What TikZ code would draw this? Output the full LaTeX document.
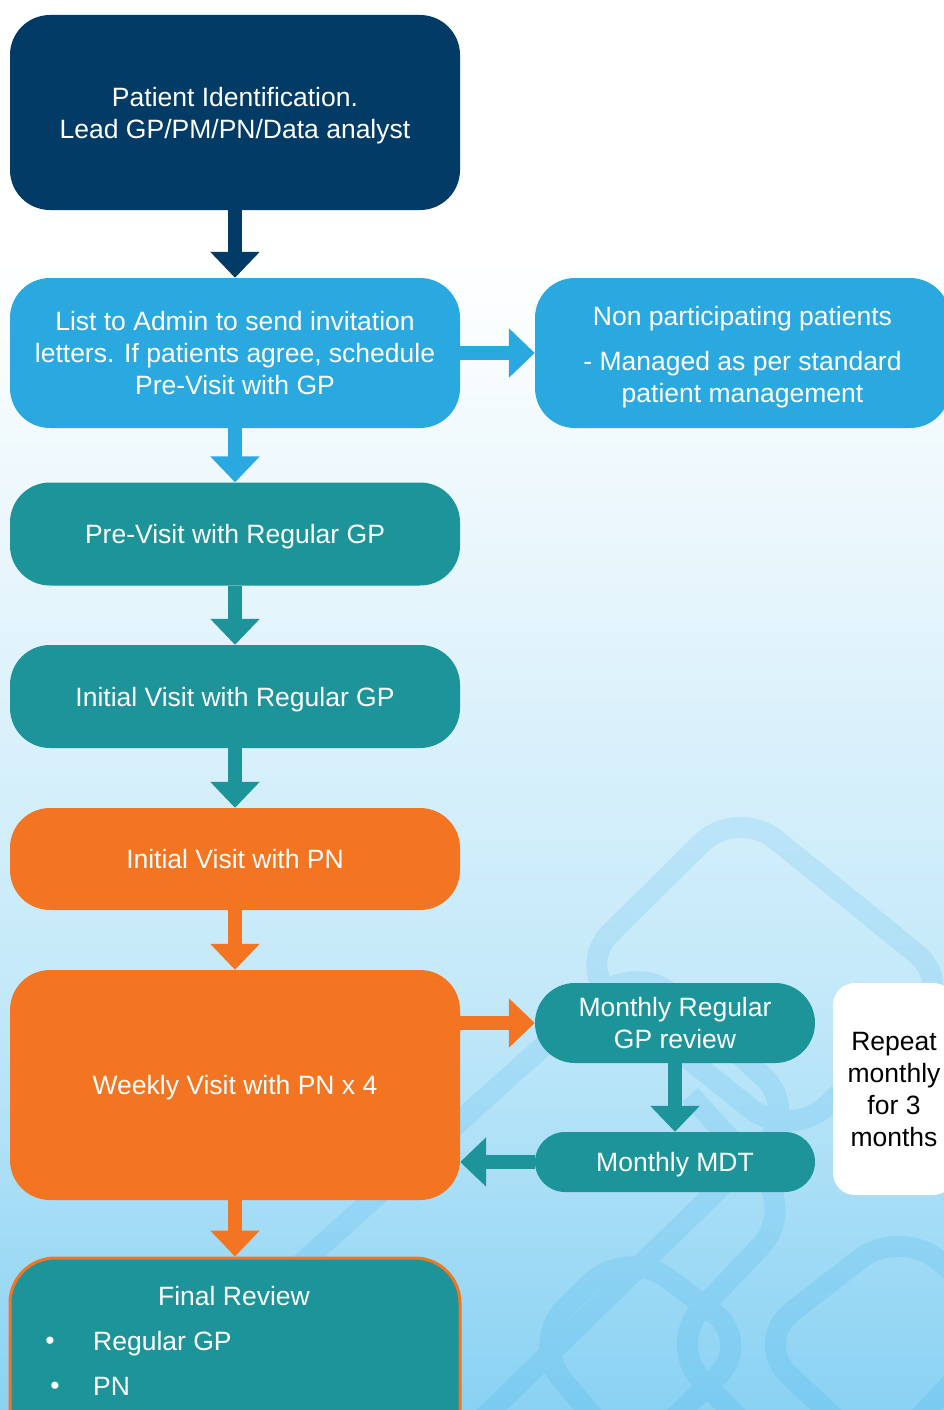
\documentclass[tikz,border=0pt]{standalone}
\usepackage{fontspec}
\setmainfont{Liberation Sans}
\usetikzlibrary{arrows.meta}
\definecolor{navy}{RGB}{2,59,102}
\definecolor{sky}{RGB}{41,169,224}
\definecolor{teal}{RGB}{28,148,153}
\definecolor{orng}{RGB}{243,117,33}
\definecolor{bgA}{RGB}{138,210,243}
\definecolor{bgB}{RGB}{196,233,249}
\definecolor{bgC}{RGB}{232,246,252}
\definecolor{decocol}{RGB}{0,150,230}
\pgfdeclareverticalshading{bgshade}{100bp}{color(0bp)=(bgA); color(25bp)=(bgA); color(40bp)=(bgB); color(55bp)=(bgC); color(66bp)=(white); color(100bp)=(white)}
\newcommand\boxfont{\fontsize{26.5}{32}\selectfont}
\newcommand\TT{\rule{0pt}{25pt}}
\newcommand\BB{\rule[-5.6pt]{0pt}{0pt}}
\begin{document}
\begin{tikzpicture}[x=1pt,y=-1pt,
  box/.style={rectangle, rounded corners=40pt, text=white, align=center, font=\boxfont, inner sep=0pt},
  deco/.style={draw=decocol, line width=21pt, rounded corners=50pt},
  arr/.style={line width=14pt, -{Triangle[length=26pt,width=48pt]}}]
\useasboundingbox (0,0) rectangle (944,1410);
\begin{scope}
\clip (0,0) rectangle (944,1410);
\fill[shading=bgshade] (0,0) rectangle (944,1410);
% decorative outlines
\begin{scope}[transparency group, opacity=0.11]
\draw[deco] (737,808) -- (955,985) -- (790,1140) -- (575,968) -- cycle;
\draw[deco] (637,962) -- (800,1110) -- (440,1460) -- (255,1305) -- cycle;
\draw[deco] (627,1248) -- (753,1342) -- (630,1460) -- (530,1342) -- cycle;
\draw[deco] (900,1228) -- (1010,1320) -- (880,1460) -- (753,1342) -- cycle;
\draw[deco] (690,1095) -- (795,1210) -- (667,1345) -- (760,1440);
\end{scope}
% boxes
\node[box, fill=navy, minimum width=450pt, minimum height=195pt] (b1) at (235,112.5)
  {\TT Patient Identification.\\Lead GP/PM/PN/Data analyst\BB};
\node[box, fill=sky, minimum width=450pt, minimum height=150pt] (b2) at (235,353)
  {\TT List to Admin to send invitation\\letters. If patients agree, schedule\\Pre-Visit with GP\BB};
\node[box, fill=sky, minimum width=415pt, minimum height=150pt] (b3) at (742.5,353)
  {\rule{0pt}{27pt}Non participating patients\\[13pt]- Managed as per standard\\patient management\BB};
\node[box, fill=teal, minimum width=450pt, minimum height=103pt] (b4) at (235,534)
  {\TT Pre-Visit with Regular GP\BB};
\node[box, fill=teal, minimum width=450pt, minimum height=103pt] (b5) at (235,696.5)
  {\TT Initial Visit with Regular GP\BB};
\node[box, fill=orng, minimum width=450pt, minimum height=102pt] (b6) at (235,859)
  {\TT Initial Visit with PN\BB};
\node[box, fill=orng, minimum width=450pt, minimum height=230pt] (b7) at (235,1085)
  {\TT Weekly Visit with PN x 4\BB};
\node[box, fill=teal, minimum width=280pt, minimum height=80pt] (b8) at (675,1023)
  {\TT Monthly Regular\\GP review\BB};
\node[box, fill=teal, rounded corners=30pt, minimum width=280pt, minimum height=60pt] (b9) at (675,1162)
  {\TT Monthly MDT\BB};
\node[box, fill=white, text=black, rounded corners=22pt, minimum width=122pt, minimum height=212pt] (b10) at (894,1089)
  {\TT Repeat\\monthly\\for 3\\months\BB};
\node[box, fill=teal, draw=orng, line width=3pt, rounded corners=45pt, minimum width=450pt, minimum height=200pt] (b11) at (235,1358) {};
\node[text=white, font=\boxfont, inner sep=0pt] (fr) at (234,1296) {\TT Final Review\BB};
\node[text=white, font=\boxfont, inner sep=0pt] (fb1) at (50,1343) {•};
\node[text=white, font=\boxfont, inner sep=0pt, anchor=west] (fr1) at (93,1341) {\TT Regular GP\BB};
\node[text=white, font=\boxfont, inner sep=0pt] (fb2) at (55,1388) {•};
\node[text=white, font=\boxfont, inner sep=0pt, anchor=west] (fr2) at (93,1386) {\TT PN\BB};
% arrows
\draw[arr, navy] (b1.south) -- (b2.north);
\draw[arr, sky] (b2.east) -- (b3.west);
\draw[arr, sky] (b2.south) -- (b4.north);
\draw[arr, teal] (b4.south) -- (b5.north);
\draw[arr, teal] (b5.south) -- (b6.north);
\draw[arr, orng] (b6.south) -- (b7.north);
\draw[arr, orng] (b8.west -| b7.east) -- (b8.west);
\draw[arr, teal] (b8.south) -- (b9.north);
\draw[arr, teal] (b9.west) -- (b9.west -| b7.east);
\draw[arr, orng] (b7.south) -- (b11.north);
\end{scope}
\end{tikzpicture}
\end{document}
